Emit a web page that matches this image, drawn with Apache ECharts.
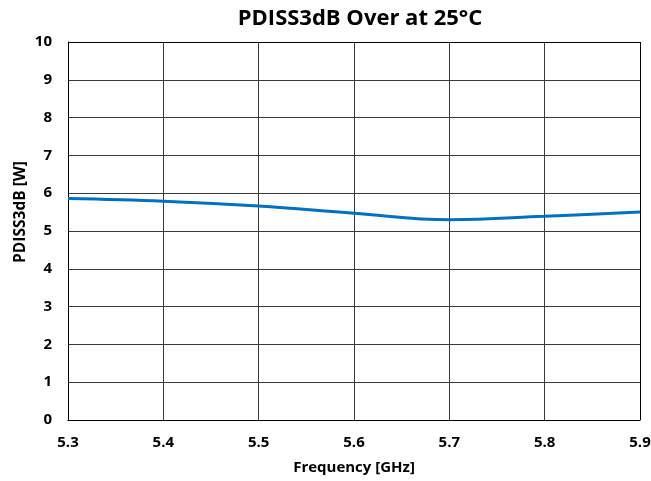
<!DOCTYPE html>
<html>
<head>
<meta charset="utf-8">
<script src="https://cdn.jsdelivr.net/npm/echarts@6/dist/echarts.min.js"></script>
<style>
  html, body { margin: 0; padding: 0; background: #fff; }
  #main { width: 651px; height: 481px; }
</style>
</head>
<body>
<div id="main"></div>
<script>
// values
var freq = [5.3, 5.4, 5.5, 5.6, 5.7, 5.8, 5.9];
var pdiss = [5.86, 5.79, 5.66, 5.47, 5.30, 5.39, 5.50];
var yTicks = [0, 1, 2, 3, 4, 5, 6, 7, 8, 9, 10];

var font = '"Open Sans", "Noto Sans", sans-serif';
var chart = echarts.init(document.getElementById('main'));

var option = {
    animation: false,
    title: {
        text: 'PDISS3dB Over at 25°C',
        left: 355,
        textAlign: 'center',
        top: 3,
        textStyle: { fontFamily: font, fontSize: 22, fontWeight: 'bold', color: '#000' }
    },
    grid: { left: 68, right: 11, top: 42, bottom: 61, outerBoundsMode: 'none', containLabel: false },
    graphic: [
        {
            // y axis title, sits a bit above the middle like the reference
            type: 'text',
            x: 21,
            y: 212,
            rotation: Math.PI / 2,
            style: {
                text: 'PDISS3dB [W]',
                fontFamily: font, fontSize: 15.5, fontWeight: 'bold', fill: '#000',
                textAlign: 'center', textVerticalAlign: 'middle'
            }
        }
    ],
    xAxis: {
        type: 'value',
        min: 5.3,
        max: 5.9,
        interval: 0.1,
        name: 'Frequency [GHz]',
        nameLocation: 'middle',
        nameGap: 40,
        nameTextStyle: { fontFamily: font, fontSize: 15, fontWeight: 'bold', color: '#000' },
        axisLine: { show: true, lineStyle: { color: '#000', width: 1 } },
        axisTick: { show: false },
        axisLabel: {
            fontFamily: font, fontSize: 15, fontWeight: 'bold', color: '#000', margin: 15,
            formatter: function (v) { return v.toFixed(1); }
        },
        splitLine: { show: true, lineStyle: { color: '#3a3a3a', width: 1 } }
    },
    yAxis: {
        type: 'value',
        min: yTicks[0],
        max: yTicks[yTicks.length - 1],
        interval: 1,
        axisLine: { show: true, lineStyle: { color: '#000', width: 1 } },
        axisTick: { show: false },
        axisLabel: { fontFamily: font, fontSize: 15, fontWeight: 'bold', color: '#000', margin: 16 },
        splitLine: { show: true, lineStyle: { color: '#3a3a3a', width: 1 } }
    },
    series: [
        {
            type: 'line',
            data: freq.map(function (f, i) { return [f, pdiss[i]]; }),
            smooth: 0.4,
            showSymbol: false,
            lineStyle: { color: '#0070C0', width: 3 }
        },
        {
            // right and top border of the plot area
            type: 'line',
            data: [],
            markLine: {
                silent: true,
                symbol: 'none',
                label: { show: false },
                lineStyle: { color: '#000', width: 1, type: 'solid' },
                data: [{ xAxis: 5.9 }, { yAxis: 10 }]
            }
        }
    ]
};
chart.setOption(option);
</script>
</body>
</html>
